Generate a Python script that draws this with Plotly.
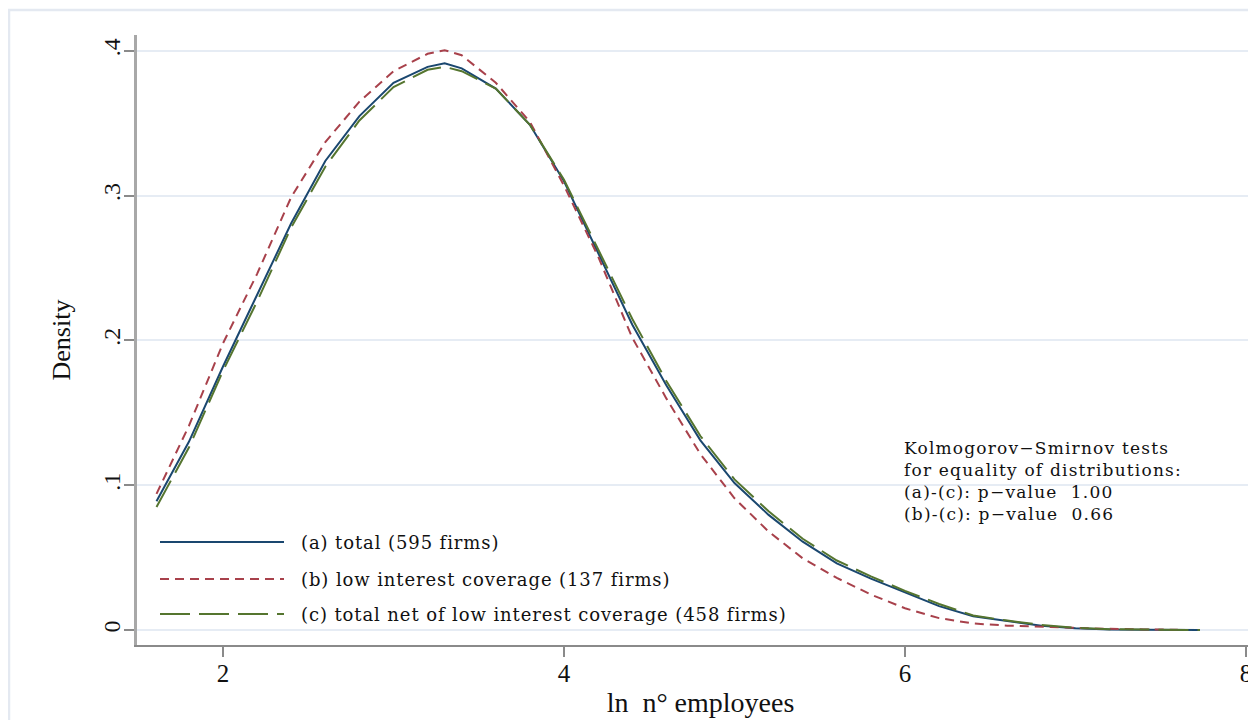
import plotly.graph_objects as go

# ---- data ----
x_vals = [1.61, 1.8, 2.0, 2.2, 2.4, 2.6, 2.8, 3.0, 3.2, 3.3, 3.4, 3.6, 3.8, 4.0,
          4.2, 4.4, 4.6, 4.8, 5.0, 5.2, 5.4, 5.6, 5.8, 6.0, 6.2, 6.4, 6.6, 6.8,
          7.0, 7.2, 7.4, 7.6, 7.73]

dens_total = [0.089, 0.130, 0.182, 0.231, 0.281, 0.324, 0.355, 0.378, 0.389, 0.3915,
              0.388, 0.374, 0.349, 0.310, 0.260, 0.211, 0.169, 0.131, 0.1015, 0.0795,
              0.061, 0.046, 0.0355, 0.026, 0.0165, 0.0095, 0.006, 0.003, 0.0012,
              0.0004, 0.0002, 0.0001, 0.0]

dens_low = [0.094, 0.141, 0.198, 0.246, 0.299, 0.337, 0.365, 0.386, 0.398, 0.4005,
            0.397, 0.378, 0.351, 0.307, 0.258, 0.202, 0.160, 0.1215, 0.091, 0.068,
            0.0495, 0.036, 0.0245, 0.015, 0.0082, 0.0045, 0.003, 0.0022, 0.0015,
            0.0008, 0.0004, 0.0002, None]

dens_net = [0.085, 0.126, 0.179, 0.227, 0.278, 0.320, 0.352, 0.375, 0.387, 0.389,
            0.386, 0.374, 0.349, 0.311, 0.263, 0.215, 0.172, 0.134, 0.104, 0.082,
            0.063, 0.048, 0.037, 0.027, 0.018, 0.010, 0.0065, 0.0035, 0.0015,
            0.0006, 0.0003, 0.0001, 0.0]

series_names = ["(a) total (595 firms)",
                "(b) low interest coverage (137 firms)",
                "(c) total net of low interest coverage (458 firms)"]
series_colors = ["#1a476f", "#a8414b", "#55752f"]
series_dash = ["solid", "9px,6px", "30px,9px"]

y_ticks = [0, 0.1, 0.2, 0.3, 0.4]
y_ticklabels = ["0", ".1", ".2", ".3", ".4"]
x_ticks = [2, 4, 6, 8]

ks_lines = ["Kolmogorov\u2212Smirnov tests",
            "for equality of distributions:",
            "(a)-(c): p\u2212value \u00a01.00",
            "(b)-(c): p\u2212value \u00a00.66"]

# ---- layout geometry (page body adds an 8px offset) ----
OFF = 8
W, H = 1256, 720
L = 137 - OFF          # y-axis line on screen at x=137
T = 35 - OFF           # plot top on screen at y=35
B = H - (645 - OFF)    # x-axis line on screen at y=645
R = 0
pw, ph = W - L - R, H - T - B

def sx(px):  # screen x -> paper x
    return (px - OFF - L) / pw

def sy(py):  # screen y -> paper y
    return (H - B - (py - OFF)) / ph

fig = go.Figure()
for ys, name, col, dash in zip([dens_total, dens_low, dens_net], series_names,
                               series_colors, series_dash):
    fig.add_trace(go.Scatter(x=x_vals, y=ys, mode="lines", name=name,
                             line=dict(color=col, width=2, dash=dash),
                             showlegend=False, connectgaps=False))

shapes = []
annotations = []

# outer graph-region border (light)
shapes.append(dict(type="rect", xref="paper", yref="paper",
                   x0=sx(9), x1=sx(1300), y0=sy(800), y1=sy(10),
                   line=dict(color="#e4e9f1", width=2.5), layer="below"))

# custom legend (long samples, like the reference)
legend_rows_py = [542, 579, 614]
for name, col, dash, py in zip(series_names, series_colors, series_dash, legend_rows_py):
    shapes.append(dict(type="line", xref="paper", yref="paper",
                       x0=sx(160), x1=sx(284), y0=sy(py), y1=sy(py),
                       line=dict(color=col, width=2, dash=dash)))
    annotations.append(dict(xref="paper", yref="paper", x=sx(299), y=sy(py),
                            text='<span style="letter-spacing:0.9px">' + name + '</span>',
                            showarrow=False, xanchor="left", yanchor="middle",
                            font=dict(family="DejaVu Serif", size=18, color="#111111")))

# KS test text (one block)
annotations.append(dict(xref="paper", yref="paper", x=sx(902), y=sy(481),
                        text='<span style="letter-spacing:1.2px">' + "<br>".join(ks_lines) + '</span>',
                        showarrow=False, xanchor="left", yanchor="middle", align="left",
                        font=dict(family="DejaVu Serif", size=17, color="#111111")))

x0_val = 2 + (137 - 223) / 170.5
x1_val = 2 + (W + OFF - 223) / 170.5

fig.update_layout(
    width=W, height=H,
    margin=dict(l=L, r=R, t=T, b=B, autoexpand=False),
    paper_bgcolor="white", plot_bgcolor="white",
    font=dict(family="Liberation Serif", color="#111111"),
    shapes=shapes, annotations=annotations,
    showlegend=False,
)

fig.update_xaxes(
    automargin=False,
    range=[x0_val, x1_val], tickvals=x_ticks, ticktext=[str(v) for v in x_ticks],
    showgrid=False, zeroline=False,
    showline=True, linecolor="#8a8a8a", linewidth=2,
    ticks="outside", ticklen=10, tickwidth=1.5, tickcolor="#8a8a8a",
    ticklabelstandoff=-5,
    tickfont=dict(family="Liberation Serif", size=25, color="#111111"),
    title=dict(text="ln  n\u00b0 employees", standoff=6,
               font=dict(family="Liberation Serif", size=28, color="#111111")),
)
fig.update_yaxes(
    automargin=False,
    range=[-0.01036, 0.411], tickvals=y_ticks, ticktext=y_ticklabels,
    tickangle=-90,
    showgrid=True, gridcolor="#e6ecf4", gridwidth=1.5, zeroline=False,
    showline=True, linecolor="#a8a8a8", linewidth=3,
    ticks="outside", ticklen=10, tickwidth=1.5, tickcolor="#8a8a8a",
    ticklabelstandoff=-6,
    tickfont=dict(family="Liberation Serif", size=24, color="#111111"),
    title=dict(text="Density", standoff=22,
               font=dict(family="Liberation Serif", size=26, color="#111111")),
)

fig.write_html("out.html")
